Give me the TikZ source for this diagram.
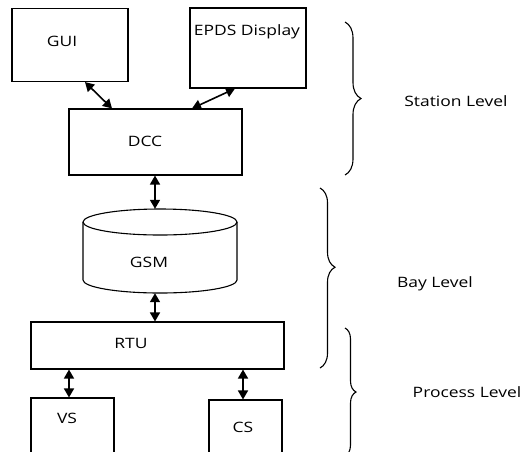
\documentclass[tikz,border=0pt]{standalone}
\usepackage{fontspec}
\setmainfont[FakeStretch=1.22]{Open Sans}
\usetikzlibrary{arrows.meta,decorations.pathreplacing}
\begin{document}
\begin{tikzpicture}[x=1pt,y=-1pt,
  box/.style={draw,line width=1.1pt,inner sep=0pt},
  lbl/.style={font=\fontsize{14.3}{16}\selectfont,inner sep=0pt,anchor=center},
  arr/.style={{Triangle[length=9pt,width=10pt]}-{Triangle[length=9pt,width=10pt]},line width=1.6pt},
  brc/.style={decorate,line width=1.1pt}
]
\useasboundingbox (0,0) rectangle (524,451);
% boxes
\node[box,minimum width=116pt,minimum height=73pt] (gui) at (70,45) {};
\node[box,minimum width=116pt,minimum height=80pt] (epds) at (248,48) {};
\node[box,minimum width=173pt,minimum height=66pt] (dcc) at (155.5,142) {};
\node[minimum width=154pt,minimum height=84pt,inner sep=0pt] (gsm) at (160,251) {};
\node[box,minimum width=253pt,minimum height=47pt] (rtu) at (157.5,345.5) {};
\node[box,minimum width=83pt,minimum height=64pt] (vs) at (72.5,430) {};
\node[box,minimum width=73pt,minimum height=62pt] (cs) at (245.5,431) {};
% cylinder
\draw[line width=1.1pt] (160,222) ellipse [x radius=77pt, y radius=13pt];
\draw[line width=1.1pt] (83,222) -- (83,280) arc[start angle=180, end angle=360, x radius=77pt, y radius=13pt] -- (237,222);
% texts
\node[lbl] (guit) at (62,41) {GUI};
\node[lbl] (epdst) at (247,32) {EPDS Display};
\node[lbl] (dcct) at (145,141) {DCC};
\node[lbl] (gsmt) at (149,262) {GSM};
\node[lbl] (rtut) at (131,343) {RTU};
\node[lbl] (vst) at (67,418) {VS};
\node[lbl] (cst) at (243,427) {CS};
\node[lbl] (st) at (456,101) {Station Level};
\node[lbl] (bay) at (435,284) {Bay Level};
\node[lbl] (proc) at (467,392) {Process Level};
% arrows
\draw[arr] ([xshift=15pt]gui.south) -- ([xshift=-43.5pt]dcc.north);
\draw[arr] ([xshift=-13pt]epds.south) -- ([xshift=36.5pt]dcc.north);
\draw[arr] ([xshift=-5pt]gsm.north) -- ([xshift=-5pt]gsm.north |- dcc.south);
\draw[arr] ([xshift=-5pt]gsm.south) -- ([xshift=-5pt]gsm.south |- rtu.north);
\draw[arr] ([xshift=-3.5pt]vs.north) -- ([xshift=-3.5pt]vs.north |- rtu.south);
\draw[arr] ([xshift=-2.5pt]cs.north) -- ([xshift=-2.5pt]cs.north |- rtu.south);
% braces
\coordinate (b1a) at (345,22);
\coordinate (b1b) at (345,175);
\coordinate (b2a) at (320,188);
\coordinate (b2b) at (320,368);
\coordinate (b3a) at (345,328);
\coordinate (b3b) at (345,456);
\draw[brc,decoration={brace,amplitude=16pt,aspect=0.5}] (b1a) -- (b1b);
\draw[brc,decoration={brace,amplitude=15pt,aspect=0.44}] (b2a) -- (b2b);
\draw[brc,decoration={brace,amplitude=11pt,aspect=0.5}] (b3a) -- (b3b);
\end{tikzpicture}
\end{document}
